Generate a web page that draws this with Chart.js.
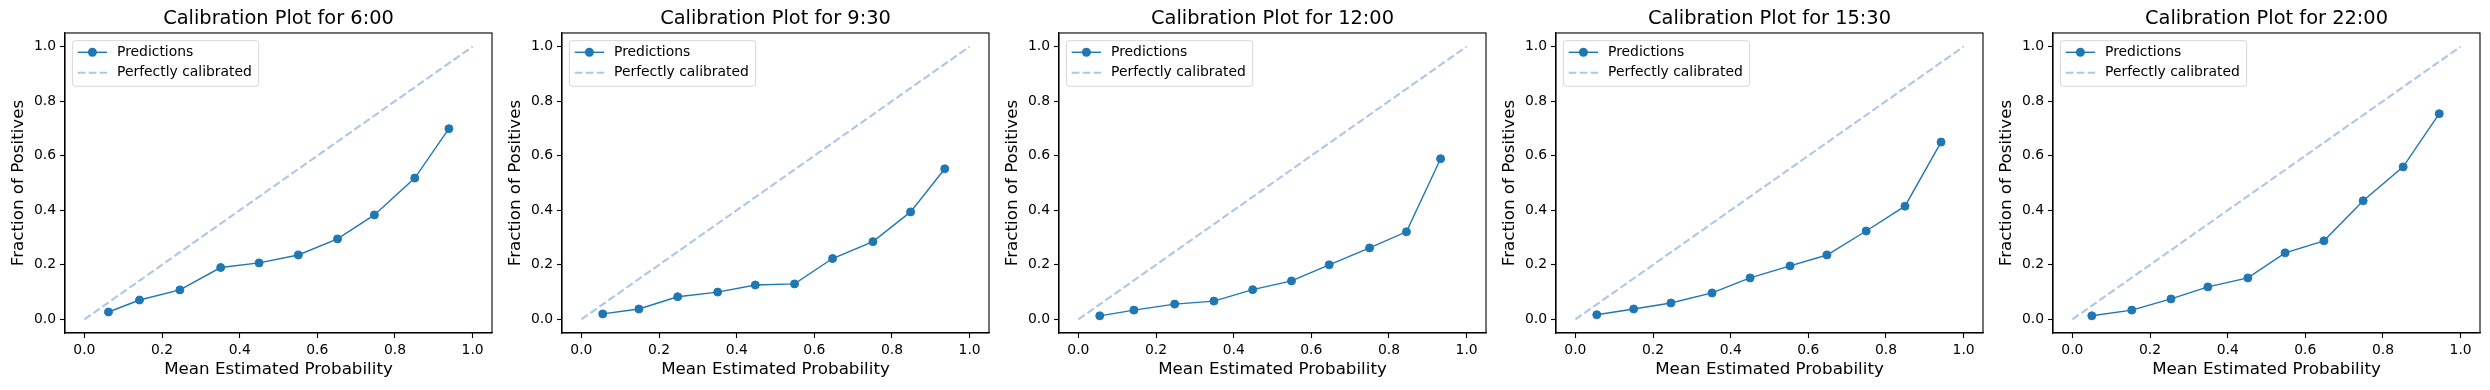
<!DOCTYPE html>
<html><head><meta charset="utf-8">
<script src="https://cdn.jsdelivr.net/npm/chart.js@4/dist/chart.umd.min.js"></script>
<style>
html,body{margin:0;padding:0;background:#fff;width:2490px;height:390px;overflow:hidden}
canvas.panel{position:absolute;top:0}
</style></head><body>
<script>
// ---- data ----
const panelTitles = ["Calibration Plot for 6:00","Calibration Plot for 9:30","Calibration Plot for 12:00","Calibration Plot for 15:30","Calibration Plot for 22:00"];
const meanProb_0600 = [0.062,0.142,0.246,0.351,0.450,0.551,0.652,0.747,0.851,0.939];
const fracPos_0600  = [0.027,0.071,0.108,0.190,0.207,0.236,0.295,0.383,0.518,0.699];
const meanProb_0930 = [0.055,0.148,0.248,0.351,0.448,0.549,0.647,0.751,0.848,0.936];
const fracPos_0930  = [0.020,0.038,0.083,0.100,0.126,0.130,0.223,0.285,0.394,0.552];
const meanProb_1200 = [0.055,0.143,0.248,0.349,0.449,0.549,0.646,0.750,0.845,0.933];
const fracPos_1200  = [0.013,0.034,0.056,0.067,0.109,0.141,0.200,0.262,0.321,0.589];
const meanProb_1530 = [0.055,0.150,0.246,0.352,0.450,0.553,0.648,0.749,0.849,0.942];
const fracPos_1530  = [0.017,0.038,0.060,0.097,0.152,0.196,0.236,0.324,0.415,0.650];
const meanProb_2200 = [0.050,0.153,0.254,0.349,0.452,0.548,0.648,0.749,0.852,0.945];
const fracPos_2200  = [0.013,0.034,0.075,0.119,0.152,0.244,0.288,0.435,0.559,0.754];
const perfectLineX = [0, 1];
const perfectLineY = [0, 1];
const tickValues = [0, 0.2, 0.4, 0.6, 0.8, 1.0];
const seriesLabels = ["Predictions", "Perfectly calibrated"];
const xAxisLabel = "Mean Estimated Probability";
const yAxisLabel = "Fraction of Positives";

const panelX = [meanProb_0600, meanProb_0930, meanProb_1200, meanProb_1530, meanProb_2200];
const panelY = [fracPos_0600, fracPos_0930, fracPos_1200, fracPos_1530, fracPos_2200];

// ---- styling ----
const FONT = "'DejaVu Sans', sans-serif";
const PANEL_W = 497, PANEL_H = 390;

const framePlugin = {
  id: 'frame',
  afterDraw(chart) {
    const {ctx, chartArea: a} = chart;
    ctx.save();
    ctx.strokeStyle = '#000';
    ctx.lineWidth = 1.1;
    ctx.strokeRect(a.left, a.top, a.right - a.left, a.bottom - a.top);
    ctx.restore();
  }
};

const legendPlugin = {
  id: 'mplLegend',
  afterDraw(chart) {
    const {ctx, chartArea: a} = chart;
    const ds = chart.data.datasets;
    ctx.save();
    ctx.font = "13.9px " + FONT;
    let maxW = 0;
    ds.forEach(d => { maxW = Math.max(maxW, ctx.measureText(d.label).width); });
    const bx = a.left + 7.4, by = a.top + 7.7;
    const textX = 44.6;
    const bw = textX + maxW + 6.8, bh = 45.6;
    const r = 2.8;
    ctx.beginPath();
    ctx.moveTo(bx + r, by);
    ctx.lineTo(bx + bw - r, by);
    ctx.arcTo(bx + bw, by, bx + bw, by + r, r);
    ctx.lineTo(bx + bw, by + bh - r);
    ctx.arcTo(bx + bw, by + bh, bx + bw - r, by + bh, r);
    ctx.lineTo(bx + r, by + bh);
    ctx.arcTo(bx, by + bh, bx, by + bh - r, r);
    ctx.lineTo(bx, by + r);
    ctx.arcTo(bx, by, bx + r, by, r);
    ctx.closePath();
    ctx.fillStyle = 'rgba(255,255,255,0.8)';
    ctx.fill();
    ctx.strokeStyle = 'rgba(204,204,204,0.8)';
    ctx.lineWidth = 1;
    ctx.stroke();
    const rowY = [11.6, 32.0];
    ds.forEach((d, i) => {
      const y = by + rowY[i];
      ctx.beginPath();
      ctx.strokeStyle = d.borderColor;
      ctx.lineWidth = d.borderWidth;
      ctx.setLineDash(d.borderDash || []);
      ctx.moveTo(bx + 5.3, y);
      ctx.lineTo(bx + 34.6, y);
      ctx.stroke();
      ctx.setLineDash([]);
      if (d.pointRadius > 0) {
        ctx.beginPath();
        ctx.fillStyle = d.pointBackgroundColor;
        ctx.arc(bx + 20, y, d.pointRadius + 0.5, 0, Math.PI * 2);
        ctx.fill();
      }
      ctx.fillStyle = '#000';
      ctx.textBaseline = 'middle';
      ctx.textAlign = 'left';
      ctx.fillText(d.label, bx + textX, y);
    });
    ctx.restore();
  }
};

function axisCfg(titleText, isX) {
  return {
    type: 'linear',
    min: -0.05, max: 1.05,
    afterBuildTicks: (axis) => { axis.ticks = tickValues.map(v => ({value: v})); },
    afterFit: (s) => { if (isX) s.height = 57; else s.width = 65; },
    ticks: {
      callback: (v) => Number(v).toFixed(1),
      font: {family: FONT, size: 13.9},
      color: '#000',
      padding: 4,
      maxRotation: 0,
      autoSkip: false
    },
    grid: {display: true, drawOnChartArea: false, drawTicks: true, tickLength: 5, tickWidth: 1.1, tickColor: '#000'},
    border: {display: true, color: '#000', width: 1.1},
    title: {
      display: true, text: titleText, color: '#000',
      font: {family: FONT, size: 16.7},
      padding: isX ? {top: 0, bottom: 10} : {top: 8.5, bottom: 0}
    }
  };
}

for (let i = 0; i < 5; i++) {
  const c = document.createElement('canvas');
  c.className = 'panel';
  c.width = PANEL_W; c.height = PANEL_H;
  c.style.left = (PANEL_W * i) + 'px';
  c.style.width = PANEL_W + 'px'; c.style.height = PANEL_H + 'px';
  document.body.appendChild(c);
  const pts = panelX[i].map((x, k) => ({x: x, y: panelY[i][k]}));
  const diag = perfectLineX.map((x, k) => ({x: x, y: perfectLineY[k]}));
  new Chart(c.getContext('2d'), {
    type: 'scatter',
    data: {
      datasets: [
        {label: seriesLabels[0], data: pts, showLine: true, borderColor: '#1f77b4', borderWidth: 1.4,
         pointRadius: 4, pointBackgroundColor: '#1f77b4', pointBorderColor: '#1f77b4', pointBorderWidth: 1, pointHoverRadius: 4},
        {label: seriesLabels[1], data: diag, showLine: true, borderColor: '#aec7e8', borderWidth: 2.1,
         borderDash: [7.7, 3.3], pointRadius: 0, pointHoverRadius: 0}
      ]
    },
    options: {
      responsive: false, animation: false, devicePixelRatio: 1,
      layout: {padding: {top: 0, left: 0, right: 5, bottom: 0}},
      plugins: {
        legend: {display: false},
        tooltip: {enabled: false},
        title: {display: true, text: panelTitles[i], color: '#000', fullSize: false,
                font: {family: FONT, size: 19.4, weight: 'normal'}, padding: {top: 7.4, bottom: 2.3}}
      },
      scales: {x: axisCfg(xAxisLabel, true), y: axisCfg(yAxisLabel, false)}
    },
    plugins: [framePlugin, legendPlugin]
  });
}
</script>
</body></html>
